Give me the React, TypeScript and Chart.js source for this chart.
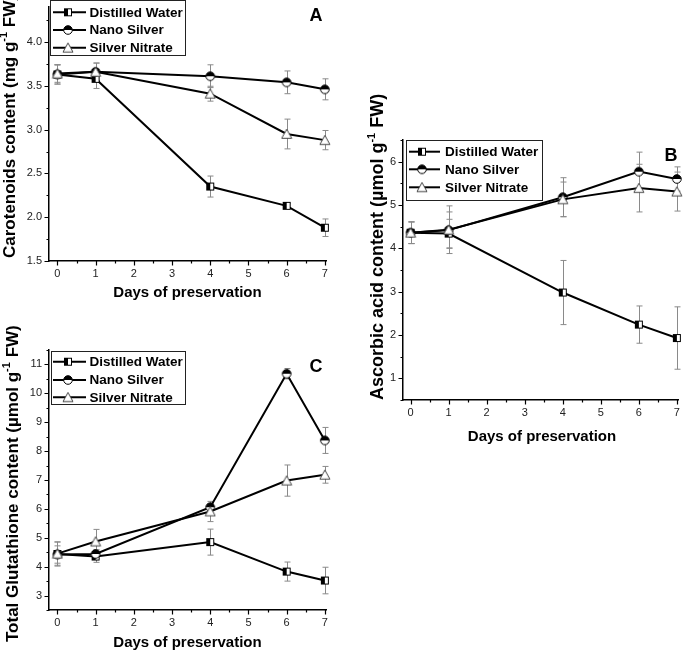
import React, { useEffect, useRef } from "react";
import { Chart, registerables } from "chart.js";

Chart.register(...registerables);

// ---------------- DATA ----------------
const days = [0, 1, 4, 6, 7];
const seriesNames = ["Distilled Water", "Nano Silver", "Silver Nitrate"];
const xTickValues = [0, 1, 2, 3, 4, 5, 6, 7];

// Panel A: Carotenoids content (mg g-1 FW)
const carotenoidDW = [3.63, 3.58, 2.35, 2.13, 1.88];
const carotenoidDWErr = [0.11, 0.11, 0.12, 0.03, 0.1];
const carotenoidNS = [3.63, 3.66, 3.61, 3.54, 3.46];
const carotenoidNSErr = [0.11, 0.1, 0.13, 0.13, 0.12];
const carotenoidSN = [3.64, 3.66, 3.41, 2.95, 2.88];
const carotenoidSNErr = [0.1, 0.1, 0.085, 0.17, 0.11];
const carotenoidYTicks = [1.5, 2.0, 2.5, 3.0, 3.5, 4.0];

// Panel B: Ascorbic acid content (µmol g-1 FW)
const ascorbicDW = [4.36, 4.34, 2.98, 2.24, 1.93];
const ascorbicDWErr = [0.25, 0.33, 0.74, 0.43, 0.72];
const ascorbicNS = [4.36, 4.42, 5.18, 5.77, 5.6];
const ascorbicNSErr = [0.25, 0.42, 0.45, 0.45, 0.28];
const ascorbicSN = [4.36, 4.43, 5.13, 5.39, 5.31];
const ascorbicSNErr = [0.25, 0.55, 0.4, 0.55, 0.45];
const ascorbicYTicks = [1, 2, 3, 4, 5, 6];

// Panel C: Total Glutathione content (µmol g-1 FW)
const glutathioneDW = [4.44, 4.35, 4.85, 3.83, 3.52];
const glutathioneDWErr = [0.42, 0.2, 0.45, 0.33, 0.46];
const glutathioneNS = [4.42, 4.44, 6.06, 10.68, 8.37];
const glutathioneNSErr = [0.3, 0.15, 0.12, 0.18, 0.45];
const glutathioneSN = [4.45, 4.87, 5.91, 6.98, 7.18];
const glutathioneSNErr = [0.4, 0.42, 0.35, 0.54, 0.29];
const glutathioneYTicks = [3, 4, 5, 6, 7, 8, 9, 10, 11];

// ---------------- STYLE / LAYOUT ----------------
const FONT = "'Liberation Sans', Arial, Helvetica, sans-serif";

type Panel = {
  key: string;
  left: number; top: number; width: number; height: number;
  xMin: number; xMax: number; yMin: number; yMax: number;
  yTicks: number[]; yDecimals: number;
  values: number[][]; errors: number[][];
  yWidth: number; xHeight: number; padTop: number; padRight: number;
  yTitle: { pre: string; sup: string; post: string; x: number; yStart: number; size: number };
  xTitle: { x: number; y: number };
  legend: { left: number; top: number; right: number; bottom: number; rows: number[]; lineX1: number; lineX2: number; markerX: number; textX: number };
  letter: { text: string; x: number; y: number };
};

const panels: Panel[] = [
  {
    key: "A", left: 0, top: 0, width: 340, height: 310,
    xMin: -0.22, xMax: 7.03, yMin: 1.5, yMax: 4.4,
    yTicks: carotenoidYTicks, yDecimals: 1,
    values: [carotenoidDW, carotenoidNS, carotenoidSN],
    errors: [carotenoidDWErr, carotenoidNSErr, carotenoidSNErr],
    yWidth: 49, xHeight: 49, padTop: 0, padRight: 14,
    yTitle: { pre: "Carotenoids content (mg g", sup: "-1", post: " FW)", x: 10.5, yStart: 258, size: 17 },
    xTitle: { x: 187.5, y: 292.5 },
    legend: { left: 50.5, top: 0.5, right: 185.5, bottom: 55.5, rows: [12.3, 30, 47.7], lineX1: 53, lineX2: 86, markerX: 68, textX: 89.5 },
    letter: { text: "A", x: 316, y: 16 },
  },
  {
    key: "B", left: 340, top: 80, width: 345, height: 365,
    xMin: -0.2, xMax: 7.03, yMin: 0.5, yMax: 6.5,
    yTicks: ascorbicYTicks, yDecimals: 0,
    values: [ascorbicDW, ascorbicNS, ascorbicSN],
    errors: [ascorbicDWErr, ascorbicNSErr, ascorbicSNErr],
    yWidth: 63, xHeight: 45, padTop: 60, padRight: 4,
    yTitle: { pre: "Ascorbic acid content (\u00b5mol g", sup: "-1", post: " FW)", x: 38, yStart: 320, size: 18 },
    xTitle: { x: 202, y: 357 },
    legend: { left: 66.5, top: 60.5, right: 202.5, bottom: 120.5, rows: [71.7, 89.3, 107.3], lineX1: 69, lineX2: 100, markerX: 82, textX: 105 },
    letter: { text: "B", x: 331, y: 76 },
  },
  {
    key: "C", left: 0, top: 320, width: 340, height: 331,
    xMin: -0.22, xMax: 7.03, yMin: 2.5, yMax: 11.5,
    yTicks: glutathioneYTicks, yDecimals: 0,
    values: [glutathioneDW, glutathioneNS, glutathioneSN],
    errors: [glutathioneDWErr, glutathioneNSErr, glutathioneSNErr],
    yWidth: 49, xHeight: 41, padTop: 30, padRight: 14,
    yTitle: { pre: "Total Glutathione content (\u00b5mol g", sup: "-1", post: " FW)", x: 13, yStart: 322, size: 17 },
    xTitle: { x: 187.5, y: 323 },
    legend: { left: 51.5, top: 31.5, right: 185.5, bottom: 84.5, rows: [41.7, 60, 77.3], lineX1: 53, lineX2: 86, markerX: 68, textX: 89.5 },
    letter: { text: "C", x: 316, y: 47.5 },
  },
];

function makeMarker(kind: string): HTMLCanvasElement {
  const c = document.createElement("canvas");
  const s = 12;
  c.width = s; c.height = s;
  const ctx = c.getContext("2d")!;
  ctx.lineWidth = 1;
  ctx.strokeStyle = "#000";
  if (kind === "square") {
    const x0 = 2, w = 8;
    ctx.fillStyle = "#fff"; ctx.fillRect(x0, x0, w, w);
    ctx.fillStyle = "#000"; ctx.fillRect(x0, x0, w / 2, w);
    ctx.strokeRect(x0 + 0.5, x0 + 0.5, w - 1, w - 1);
  } else if (kind === "circle") {
    const cx = 6, cy = 6, r = 4.3;
    ctx.fillStyle = "#fff";
    ctx.beginPath(); ctx.arc(cx, cy, r, 0, Math.PI * 2); ctx.fill();
    ctx.fillStyle = "#000";
    ctx.beginPath(); ctx.arc(cx, cy, r, Math.PI, Math.PI * 2); ctx.closePath(); ctx.fill();
    ctx.beginPath(); ctx.arc(cx, cy, r, 0, Math.PI * 2); ctx.stroke();
  } else {
    ctx.fillStyle = "#fff";
    ctx.strokeStyle = "#444";
    ctx.beginPath(); ctx.moveTo(6, 1.2); ctx.lineTo(11, 10.3); ctx.lineTo(1, 10.3); ctx.closePath();
    ctx.fill(); ctx.stroke();
  }
  return c;
}

function midpoints(vals: number[]): number[] {
  const out: number[] = [];
  for (let i = 0; i < vals.length - 1; i++) out.push((vals[i] + vals[i + 1]) / 2);
  return out;
}

function buildChart(canvas: HTMLCanvasElement, p: Panel) {
  const markers = [makeMarker("square"), makeMarker("circle"), makeMarker("triangle")];
  const yMinor = midpoints(p.yTicks);
  if (p.yTicks[0] - 0.5 * (p.yTicks[1] - p.yTicks[0]) >= p.yMin - 1e-9) yMinor.unshift(p.yTicks[0] - 0.5 * (p.yTicks[1] - p.yTicks[0]));
  const last = p.yTicks[p.yTicks.length - 1];
  const half = 0.5 * (p.yTicks[1] - p.yTicks[0]);
  if (last + half <= p.yMax + 1e-9) yMinor.push(last + half);
  const xMinor = midpoints(xTickValues);

  const decor = {
    id: "decor" + p.key,
    beforeDatasetsDraw(chart: any) {
      const ctx = chart.ctx as CanvasRenderingContext2D;
      const xs = chart.scales.x, ys = chart.scales.y;
      ctx.save();
      ctx.strokeStyle = "#8a8a8a";
      ctx.lineWidth = 1;
      p.values.forEach((vals, si) => {
        vals.forEach((v, j) => {
          const e = p.errors[si][j];
          const px = Math.round(xs.getPixelForValue(days[j])) + 0.5;
          const y1 = ys.getPixelForValue(v + e);
          const y2 = ys.getPixelForValue(v - e);
          ctx.beginPath();
          ctx.moveTo(px, y1); ctx.lineTo(px, y2);
          ctx.moveTo(px - 3, y1); ctx.lineTo(px + 3, y1);
          ctx.moveTo(px - 3, y2); ctx.lineTo(px + 3, y2);
          ctx.stroke();
        });
      });
      ctx.restore();
    },
    afterDraw(chart: any) {
      const ctx = chart.ctx as CanvasRenderingContext2D;
      const xs = chart.scales.x, ys = chart.scales.y;
      const area = chart.chartArea;
      ctx.save();
      // tick marks
      ctx.strokeStyle = "#000";
      ctx.lineWidth = 1.2;
      ctx.beginPath();
      xTickValues.forEach((v) => {
        const px = Math.round(xs.getPixelForValue(v)) + 0.5;
        ctx.moveTo(px, area.bottom); ctx.lineTo(px, area.bottom + 4.5);
      });
      xMinor.forEach((v) => {
        const px = Math.round(xs.getPixelForValue(v)) + 0.5;
        ctx.moveTo(px, area.bottom); ctx.lineTo(px, area.bottom + 2.5);
      });
      p.yTicks.forEach((v) => {
        const py = Math.round(ys.getPixelForValue(v)) + 0.5;
        ctx.moveTo(area.left, py); ctx.lineTo(area.left - 4.5, py);
      });
      yMinor.forEach((v) => {
        const py = Math.round(ys.getPixelForValue(v)) + 0.5;
        ctx.moveTo(area.left, py); ctx.lineTo(area.left - 2.5, py);
      });
      ctx.stroke();

      // x title
      ctx.fillStyle = "#000";
      ctx.font = `bold 15px ${FONT}`;
      ctx.textAlign = "center";
      ctx.textBaseline = "middle";
      ctx.fillText("Days of preservation", p.xTitle.x, p.xTitle.y);

      // y title with superscript
      const t = p.yTitle;
      ctx.save();
      ctx.translate(t.x, t.yStart);
      ctx.rotate(-Math.PI / 2);
      ctx.textAlign = "left";
      ctx.textBaseline = "middle";
      let cx = 0;
      ctx.font = `bold ${t.size}px ${FONT}`;
      ctx.fillText(t.pre, cx, 0);
      cx += ctx.measureText(t.pre).width;
      ctx.font = `bold ${Math.round(t.size * 0.62)}px ${FONT}`;
      ctx.fillText(t.sup, cx, -t.size * 0.36);
      cx += ctx.measureText(t.sup).width;
      ctx.font = `bold ${t.size}px ${FONT}`;
      ctx.fillText(t.post, cx, 0);
      ctx.restore();

      // legend
      const L = p.legend;
      ctx.fillStyle = "#fff";
      ctx.fillRect(L.left, L.top, L.right - L.left, L.bottom - L.top);
      ctx.strokeStyle = "#222";
      ctx.lineWidth = 1;
      ctx.strokeRect(L.left, L.top, L.right - L.left, L.bottom - L.top);
      L.rows.forEach((ry, i) => {
        ctx.strokeStyle = "#000";
        ctx.lineWidth = 2;
        ctx.beginPath();
        ctx.moveTo(L.lineX1, ry); ctx.lineTo(L.lineX2, ry);
        ctx.stroke();
        const m = markers[i];
        ctx.drawImage(m, L.markerX - m.width / 2, ry - m.height / 2);
        ctx.fillStyle = "#000";
        ctx.font = `bold 13.5px ${FONT}`;
        ctx.textAlign = "left";
        ctx.textBaseline = "middle";
        ctx.fillText(seriesNames[i], L.textX, ry + 0.5);
      });

      // panel letter
      ctx.fillStyle = "#000";
      ctx.font = `bold 18px ${FONT}`;
      ctx.textAlign = "center";
      ctx.textBaseline = "middle";
      ctx.fillText(p.letter.text, p.letter.x, p.letter.y);
      ctx.restore();
    },
  };

  const zeroPad = (s: any) => {
    s.paddingLeft = 0; s.paddingRight = 0; s.paddingTop = 0; s.paddingBottom = 0;
  };

  return new Chart(canvas, {
    type: "line",
    data: {
      datasets: p.values.map((vals, i) => ({
        label: seriesNames[i],
        data: days.map((d, j) => ({ x: d, y: vals[j] })),
        borderColor: "#000",
        borderWidth: 2,
        pointStyle: markers[i] as any,
        pointRadius: 5,
        pointHoverRadius: 5,
        order: 2 - i,
        clip: false as any,
        tension: 0,
        fill: false,
      })),
    },
    options: {
      responsive: false,
      animation: false,
      events: [],
      layout: { padding: { left: 0, top: p.padTop, right: p.padRight, bottom: 0 } },
      plugins: { legend: { display: false }, tooltip: { enabled: false }, title: { display: false } },
      scales: {
        x: {
          type: "linear",
          min: p.xMin,
          max: p.xMax,
          afterBuildTicks: (s: any) => { s.ticks = xTickValues.map((v) => ({ value: v })); },
          afterFit: (s: any) => { s.height = p.xHeight; zeroPad(s); },
          grid: { display: true, drawOnChartArea: false, drawTicks: true, tickLength: 4, color: "rgba(0,0,0,0)" },
          border: { display: true, color: "#000", width: 1.5 },
          ticks: { color: "#222", font: { family: FONT, size: 11 }, padding: 2, maxRotation: 0, autoSkip: false, callback: (v: any) => String(v) },
        },
        y: {
          type: "linear",
          min: p.yMin,
          max: p.yMax,
          afterBuildTicks: (s: any) => { s.ticks = p.yTicks.map((v) => ({ value: v })); },
          afterFit: (s: any) => { s.width = p.yWidth; zeroPad(s); },
          grid: { display: true, drawOnChartArea: false, drawTicks: true, tickLength: 4, color: "rgba(0,0,0,0)" },
          border: { display: true, color: "#000", width: 1.5 },
          ticks: { color: "#222", font: { family: FONT, size: 11 }, padding: 3, autoSkip: false, callback: (v: any) => Number(v).toFixed(p.yDecimals) },
        },
      },
    },
    plugins: [decor],
  } as any);
}

function PanelChart({ p }: { p: Panel }) {
  const ref = useRef<HTMLCanvasElement | null>(null);
  useEffect(() => {
    if (!ref.current) return;
    const chart = buildChart(ref.current, p);
    return () => chart.destroy();
  }, [p]);
  return (
    <canvas
      ref={ref}
      width={p.width}
      height={p.height}
      style={{ position: "absolute", left: p.left, top: p.top, width: p.width, height: p.height }}
    />
  );
}

export default function App() {
  return (
    <div style={{ position: "absolute", left: 0, top: 0, width: 685, height: 651, background: "#fff", overflow: "hidden" }}>
      {panels.map((p) => (
        <PanelChart key={p.key} p={p} />
      ))}
    </div>
  );
}
